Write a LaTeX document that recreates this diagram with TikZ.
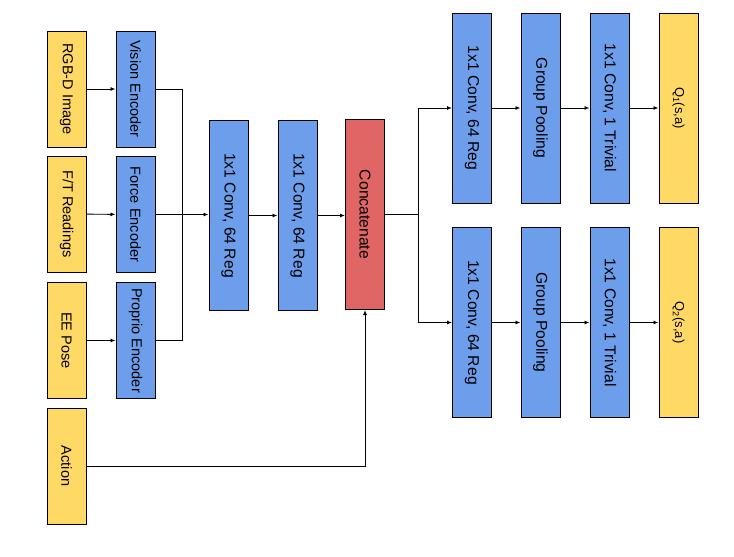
\documentclass[tikz,border=0pt]{standalone}
\usepackage{fontspec}
\setmainfont{Liberation Sans}
\usepackage{xcolor}
\usetikzlibrary{arrows.meta,positioning,calc}
\definecolor{inyellow}{HTML}{FFD966}
\definecolor{layblue}{HTML}{6D9EEB}
\definecolor{catred}{HTML}{E06666}
\newcommand{\vtxt}[1]{\rotatebox{-90}{#1}}
\tikzset{
  inbox/.style={draw, line width=1pt, fill=inyellow, minimum width=39pt, minimum height=116pt, inner sep=0pt},
  encbox/.style={draw, line width=1pt, fill=layblue, minimum width=39pt, minimum height=116pt, inner sep=0pt},
  layer/.style={draw, line width=1pt, fill=layblue, minimum width=39pt, minimum height=190pt, inner sep=0pt, font=\fontsize{15.7}{18}\selectfont},
  outbox/.style={draw, line width=1pt, fill=inyellow, minimum width=39pt, minimum height=190pt, inner sep=0pt, font=\fontsize{13}{15}\selectfont},
  line/.style={-{Latex[length=5pt,width=4pt]}, line width=0.9pt},
  wire/.style={line width=0.9pt}
}
\begin{document}
\begin{tikzpicture}[x=1pt,y=-1pt,font=\fontsize{14.5}{17}\selectfont]
        \useasboundingbox (0,0) rectangle (734,557);
        % inputs
        \node[inbox] (rgb) at (66.5,89) {\vtxt{RGB-D Image}};
        \node[inbox] (ft) at (66.5,214) {\vtxt{F/T Readings}};
        \node[inbox] (ee) at (66.5,340.5) {\vtxt{EE Pose}};
        \node[inbox] (act) at (66.5,466) {\vtxt{Action}};
        % encoders
        \node[encbox] (vis) at (135.5,89) {\vtxt{Vision Encoder}};
        \node[encbox] (force) at (135.5,214.5) {\vtxt{Force Encoder}};
        \node[encbox] (prop) at (135.5,340.5) {\vtxt{Proprio Encoder}};
        % trunk
        \node[layer] (conv1) at (228.5,215.5) {\vtxt{1x1 Conv, 64 Reg}};
        \node[layer] (conv2) at (297.5,215.5) {\vtxt{1x1 Conv, 64 Reg}};
        \node[layer, fill=catred] (cat) at (365,214.5) {\vtxt{Concatenate}};
        % heads
        \node[layer] (tconv) at (472,108) {\vtxt{1x1 Conv, 64 Reg}};
        \node[layer] (tpool) at (540.5,108) {\vtxt{Group Pooling}};
        \node[layer] (ttriv) at (609.5,108) {\vtxt{1x1 Conv, 1 Trivial}};
        \node[outbox] (q1) at (678.5,108) {\vtxt{Q\textsubscript{1}(s,a)}};
        \node[layer] (bconv) at (472,322.5) {\vtxt{1x1 Conv, 64 Reg}};
        \node[layer] (bpool) at (540.5,322.5) {\vtxt{Group Pooling}};
        \node[layer] (btriv) at (609.5,322.5) {\vtxt{1x1 Conv, 1 Trivial}};
        \node[outbox] (q2) at (678.5,322.5) {\vtxt{Q\textsubscript{2}(s,a)}};
        \coordinate (mrg) at (182.5,214.5);
        \coordinate (split) at (418.5,214.5);
        % connectors
        \draw[line] (rgb) -- (vis);
        \draw[line] (ft) -- (force);
        \draw[line] (ee) -- (prop);
        \draw[wire] (vis.east) -| (mrg);
        \draw[wire] (prop.east) -| (mrg);
        \draw[line] (force.east) -- (force.east -| conv1.west);
        \draw[line] (conv1) -- (conv2);
        \draw[line] (conv2.east) -- (conv2.east -| cat.west);
        \draw[line] (act.east) -| (cat.south);
        \draw[wire] (cat.east) -- (split);
        \draw[line] (split) |- (tconv.west);
        \draw[line] (split) |- (bconv.west);
        \draw[line] (tconv) -- (tpool);
        \draw[line] (tpool) -- (ttriv);
        \draw[line] (ttriv) -- (q1);
        \draw[line] (bconv) -- (bpool);
        \draw[line] (bpool) -- (btriv);
        \draw[line] (btriv) -- (q2);
      \end{tikzpicture}
\end{document}
